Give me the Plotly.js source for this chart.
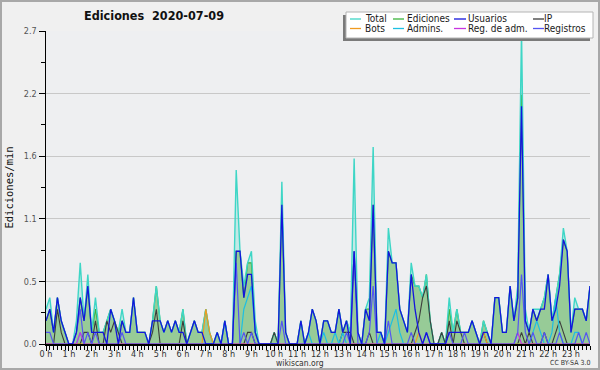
<!DOCTYPE html>
<html>
<head>
<meta charset="utf-8">
<script src="https://cdn.plot.ly/plotly-3.0.1.min.js"></script>
<style>html,body{margin:0;padding:0;background:#f0f0f0}</style>
</head>
<body>
<div id="chart" style="width:600px;height:370px"></div>
<script>
// ---- data: edits per minute, one value per 10-minute slot (144 slots) ----
const hourLabels = ['0 h','1 h','2 h','3 h','4 h','5 h','6 h','7 h','8 h','9 h','10 h','11 h',
  '12 h','13 h','14 h','15 h','16 h','17 h','18 h','19 h','20 h','21 h','22 h','23 h'];
const yTickVals = [0, 0.54, 1.08, 1.62, 2.16, 2.7];
const yTickLabels = ['0.0','0.5','1.1','1.6','2.2','2.7'];
const yMinorVals = [0.27, 0.81, 1.35, 1.89, 2.43];
const seriesNames = ['Total','Ediciones','Usuarios','IP','Bots','Admins.','Reg. de adm.','Registros'];

const total = [
 .3,.4,.1,.4,.2,.1,  0,0,.2,.7,.2,.6,  .1,.4,.1,.1,.2,.3,  .2,.1,.3,.1,.1,.4,
 .1,.1,.1,0,.2,.5,  .2,.1,.2,.1,.2,.1,  .3,0,.1,.2,.1,.1,  .3,.1,0,.1,0,.2,
 0,0,1.5,.8,.5,.7,  .8,.2,0,0,0,0,  .1,0,1.4,.1,0,0,  0,.2,0,.1,.3,.2,
 0,.2,.2,.1,.1,.3,  .1,.2,.1,1.6,.1,0,  .3,.4,1.7,.1,.1,0,  1.0,.7,.7,.3,.2,.1,
 .7,.5,.5,.4,.6,.2,  0,0,.1,0,.4,.1,  .3,.1,.1,.1,.2,.1,  0,.2,.1,0,.4,.4,
 .1,.1,.5,.2,.5,2.7,  .3,.1,.3,.3,.3,.4,  .6,.2,.4,.6,1.0,.8,  .1,.4,.3,.3,.2,.5];
const ediciones = [
 .2,.3,.1,.4,.2,.1,  0,0,.1,.4,.2,.5,  .1,.3,.1,.1,.2,.3,  .2,.1,.2,.1,.1,.4,
 .1,.1,.1,0,.2,.5,  .2,.1,.2,.1,.2,.1,  .3,0,.1,.2,.1,.1,  .3,.1,0,.1,0,.2,
 0,0,.8,.8,.4,.7,  .7,.1,0,0,0,0,  .1,0,1.2,.1,0,0,  0,.2,0,.1,.3,.2,
 0,.2,.2,.1,.1,.3,  .1,.2,.1,.8,.1,0,  .3,.3,1.2,.1,.1,0,  .8,.7,.7,.3,.2,.1,
 .6,.5,.5,.4,.6,.2,  0,0,.1,0,.3,.1,  .3,.1,.1,.1,.2,.1,  0,.2,.1,0,.4,.4,
 .1,.1,.5,.2,.4,2.15,  .2,.1,.3,.2,.3,.4,  .6,.2,.4,.6,.9,.8,  .1,.3,.3,.3,.2,.5];
const usuarios = [
 .2,.3,.1,.4,.2,.1,  0,0,.1,.4,.2,.5,  .1,.1,.1,.1,0,.3,  .2,0,.2,.1,.1,.4,
 .1,.1,.1,0,.2,.2,  .2,.1,.2,.1,.2,.1,  .1,0,.1,.2,.1,.1,  0,0,0,.1,0,.2,
 0,0,.8,.8,.4,.6,  .6,.1,0,0,0,0,  0,0,1.2,.1,0,0,  0,.2,0,.1,.3,.2,
 0,.2,.2,.1,.1,.3,  .1,.2,0,.8,.1,0,  .3,.2,1.2,.1,.1,0,  .8,.7,.7,.3,.2,.1,
 .6,.3,.1,0,.1,0,  0,0,0,0,.1,.1,  .1,.1,.1,.1,.2,.1,  0,.1,.1,0,.4,.4,
 .1,.1,.5,.2,.4,2.05,  .2,.1,.3,.2,.3,.3,  .6,.2,.3,.5,.9,.8,  .1,.3,.3,.3,.2,.5];
const ip = [
 0,0,0,.3,.1,0,  0,0,0,0,.1,.1,  0,.2,0,0,.2,.1,  .2,.1,0,0,0,0,
 0,0,0,0,.1,.3,  0,0,0,0,0,0,  .2,0,0,0,0,0,  0,0,0,0,0,0,
 0,0,0,0,0,.1,  .1,0,0,0,0,0,  .1,0,0,0,0,0,  0,0,0,0,0,0,
 0,0,0,0,0,0,  .1,.1,.1,0,0,0,  0,.1,0,0,0,0,  0,0,0,0,0,0,
 0,.1,.2,.4,.5,.2,  0,0,.1,0,.2,0,  .2,.1,0,0,0,0,  0,.1,0,0,0,0,
 0,0,0,0,0,.1,  0,.1,0,0,0,.1,  0,0,.1,.2,.1,0,  0,0,0,0,0,0];
const bots = [
 0,0,0,0,0,0,  0,0,0,0,0,0,  0,0,0,0,0,0,  0,0,0,0,0,0,
 0,0,0,0,0,0,  0,0,0,0,0,0,  0,0,0,0,0,0,  .3,.1,0,0,0,0,
 0,0,0,0,0,0,  0,0,0,0,0,0,  0,0,0,0,0,0,  0,0,0,0,0,0,
 0,0,0,0,0,0,  0,0,0,0,0,0,  0,0,0,0,0,0,  0,0,0,0,0,0,
 0,0,.1,0,0,0,  0,0,0,0,0,0,  0,0,0,0,0,0,  0,.1,0,0,0,0,
 0,0,0,0,0,0,  0,0,0,0,0,0,  0,0,0,0,0,0,  0,0,0,0,0,0];
const admins = [
 0,0,0,0,0,0,  0,0,0,.1,0,0,  0,0,0,0,0,0,  0,0,0,0,0,0,
 0,0,0,0,0,0,  0,0,0,0,0,0,  0,0,0,0,0,0,  0,0,0,0,0,.2,
 0,0,0,0,.3,.4,  .5,.1,0,0,0,0,  0,0,0,0,0,0,  0,0,0,.1,0,0,
 0,.1,0,0,.1,0,  .1,0,0,0,0,0,  0,0,0,0,.1,0,  .1,.2,.3,.1,0,0,
 0,0,0,0,0,0,  0,0,0,0,0,0,  0,0,0,0,0,0,  0,0,0,0,0,0,
 0,0,0,0,0,0,  0,0,.1,.2,.1,0,  0,.1,.4,.1,0,0,  0,.1,.1,0,0,0];
const regAdm = [
 0,0,0,0,0,0,  0,0,0,.1,0,0,  0,0,0,0,0,0,  0,0,0,0,0,0,
 0,0,0,0,0,0,  0,0,0,0,0,0,  0,0,0,0,0,0,  0,0,0,0,0,0,
 0,0,0,0,0,0,  0,0,0,0,0,0,  0,0,0,0,0,0,  0,0,0,0,0,0,
 0,0,0,0,0,0,  0,0,0,0,0,0,  0,0,0,0,0,0,  0,0,0,0,0,0,
 0,0,0,0,0,0,  0,0,0,0,0,0,  0,0,0,0,0,0,  0,0,0,0,0,0,
 0,0,0,0,.1,0,  0,0,0,0,0,0,  0,0,0,0,0,0,  0,0,0,0,0,0];
const registros = [
 .1,.1,0,0,0,0,  0,0,.1,.3,0,.1,  0,.1,0,0,0,0,  0,0,.1,0,0,0,
 0,0,0,0,0,0,  0,0,0,0,0,0,  0,0,0,0,0,0,  0,0,0,0,0,0,
 0,0,.7,0,.1,0,  .1,0,0,0,0,0,  0,0,.2,0,0,0,  0,0,0,0,0,0,
 0,0,0,0,0,0,  0,.1,0,.8,0,0,  0,.1,.5,0,0,0,  .2,0,0,0,0,0,
 .1,0,0,0,.1,0,  0,0,0,0,.1,0,  0,0,.1,0,0,0,  0,0,0,0,0,0,
 0,0,0,0,.1,.6,  .1,0,.1,0,0,.1,  0,0,0,.1,0,0,  0,0,.1,0,.1,0];

// ---- drawing ----
const FONT = 'DejaVu Sans Condensed, DejaVu Sans, sans-serif';
const L = 46, TOP = 31, PW = 544, PH = 313;
const px = p => (p - L) / PW;
const py = p => (TOP + PH - p) / PH;
const x = total.map((_, i) => i / 6);

const colors = {
  'Total':'#3ed6c6', 'Ediciones':'#3cb43c', 'Usuarios':'#1414dc', 'IP':'#3c3c3c',
  'Bots':'#f09a20', 'Admins.':'#1ebfe2', 'Reg. de adm.':'#c834e0', 'Registros':'#5555f2'
};
function area(y, fillcolor) {
  return {type:'scatter', mode:'none', x, y, fill:'tozeroy', fillcolor, hoverinfo:'skip', showlegend:false};
}
function line(y, name, width) {
  return {type:'scatter', mode:'lines', x, y, name, line:{color:colors[name], width}, hoverinfo:'skip', showlegend:false};
}
const traces = [
  area(total, 'rgba(64,214,200,0.25)'),
  area(ediciones, '#97cb97'),
  line(ediciones, 'Ediciones', 1.2),
  line(total, 'Total', 1.4),
  line(ip, 'IP', 1.1),
  line(admins, 'Admins.', 1.2),
  line(bots, 'Bots', 1.2),
  line(regAdm, 'Reg. de adm.', 1.2),
  line(registros, 'Registros', 1.2),
  line(usuarios, 'Usuarios', 1.3)
];

const shapes = [
  {type:'rect', xref:'paper', yref:'paper', x0:px(1), x1:px(599), y0:py(369), y1:py(1),
   line:{color:'#a8a8a8', width:2}, fillcolor:'rgba(0,0,0,0)', layer:'above'},
  {type:'rect', xref:'paper', yref:'paper', x0:px(343), x1:px(590), y0:py(41), y1:py(15),
   line:{width:0}, fillcolor:'#7a7a7a', layer:'above'},
  {type:'rect', xref:'paper', yref:'paper', x0:px(346), x1:px(593), y0:py(38), y1:py(12),
   line:{color:'#b4b4b4', width:1}, fillcolor:'#ffffff', layer:'above'}
];
const annotations = [];
const colLine = [[350,361],[393,404],[454,466],[533,544]];
const colText = [365, 407, 468, 544];
const rowY = [19, 28.5];
seriesNames.forEach((n, k) => {
  const c = k % 4, r = Math.floor(k / 4);
  shapes.push({type:'line', xref:'paper', yref:'paper', x0:px(colLine[c][0]), x1:px(colLine[c][1]),
    y0:py(rowY[r]), y1:py(rowY[r]), line:{color:colors[n], width:1.3}, layer:'above'});
  annotations.push({xref:'paper', yref:'paper', x:px(colText[c]), y:py(rowY[r]), xanchor:'left', yanchor:'middle',
    text:n, showarrow:false, borderpad:0, borderwidth:0, font:{family:FONT, size:10, color:'#1a1a1a'}});
});
annotations.push({xref:'paper', yref:'paper', x:px(300), y:py(362.5), xanchor:'center', yanchor:'middle',
  text:'wikiscan.org', showarrow:false, borderpad:0, borderwidth:0, font:{family:FONT, size:8.5, color:'#333'}});
annotations.push({xref:'paper', yref:'paper', x:px(590), y:py(363), xanchor:'right', yanchor:'middle',
  text:'CC BY-SA 3.0', showarrow:false, borderpad:0, borderwidth:0, font:{family:FONT, size:7, color:'#333'}});

const layout = {
  width:600, height:370,
  margin:{l:L, r:600-L-PW, t:TOP, b:370-TOP-PH, pad:0},
  paper_bgcolor:'#f0f0f0', plot_bgcolor:'#eeeff1',
  showlegend:false,
  title:{text:'<b>Ediciones\u00a0 2020-07-09</b>', font:{family:FONT, size:12.5, color:'#111'},
    x:154/600, xanchor:'center', xref:'container', y:1-16/370, yanchor:'middle', yref:'container'},
  xaxis:{range:[0, 143/6], tickvals:hourLabels.map((_, h) => h), ticktext:hourLabels,
    ticks:'outside', ticklen:5, tickwidth:1, tickcolor:'#000', showline:true, linecolor:'#000', linewidth:2,
    showgrid:false, zeroline:false, tickfont:{family:FONT, size:9, color:'#333'}, ticklabelstandoff:-5,
    minor:{dtick:1/6, tick0:0, ticks:'outside', ticklen:4, tickwidth:1, tickcolor:'#000', showgrid:false},
    fixedrange:true},
  yaxis:{range:[0, 2.7], tickvals:yTickVals, ticktext:yTickLabels,
    ticks:'outside', ticklen:6, tickwidth:1, tickcolor:'#000', showline:true, linecolor:'#000', linewidth:1.5,
    showgrid:true, gridcolor:'#c8c8c8', gridwidth:1, zeroline:false,
    tickfont:{family:FONT, size:9, color:'#555'},
    minor:{tickvals:yMinorVals, ticks:'outside', ticklen:4, tickwidth:1, tickcolor:'#000', showgrid:false},
    title:{text:'Ediciones/min', font:{family:'DejaVu Sans Mono', size:10.5, color:'#111'}, standoff:8},
    fixedrange:true},
  shapes, annotations
};
Plotly.newPlot('chart', traces, layout, {staticPlot:true, displayModeBar:false});
</script>
</body>
</html>
